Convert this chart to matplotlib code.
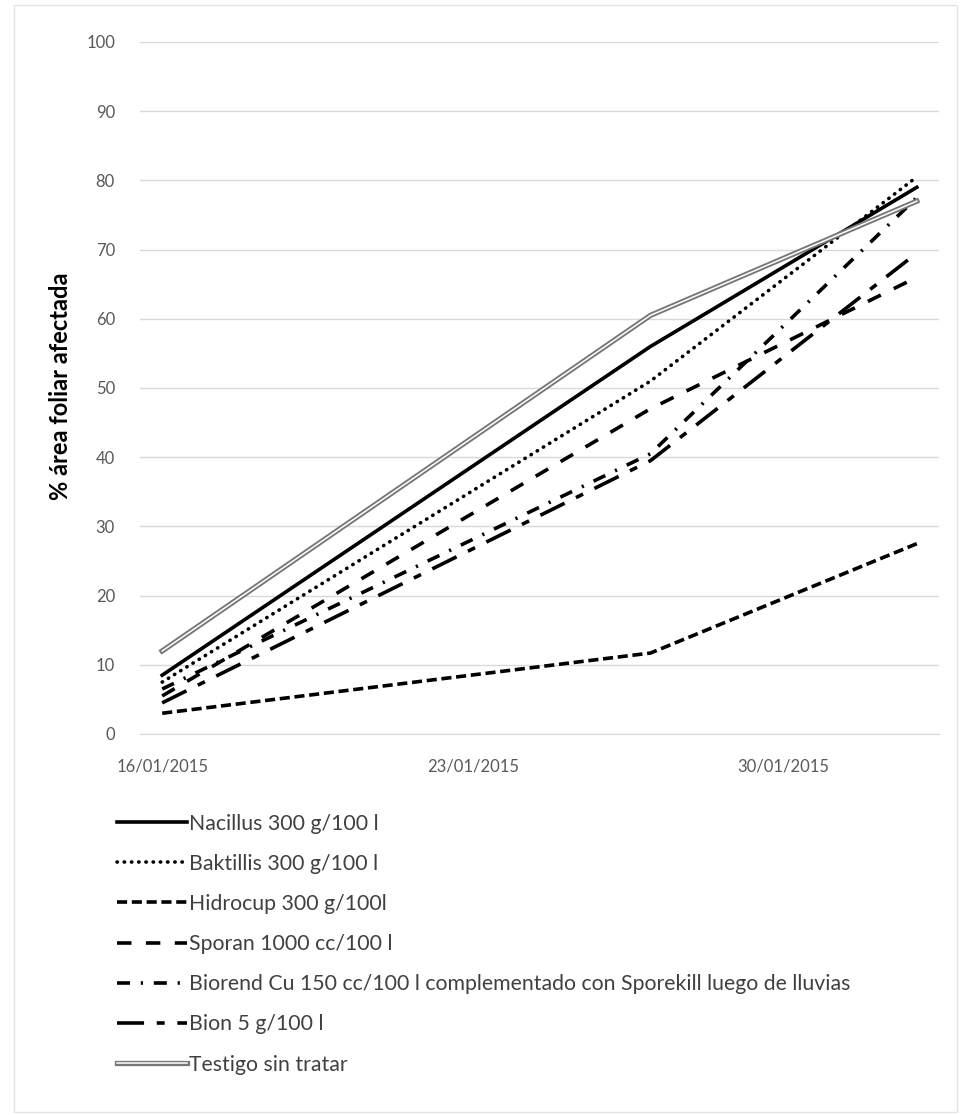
import matplotlib
matplotlib.use('Agg')
import matplotlib.pyplot as plt
import matplotlib.dates as mdates
import matplotlib.patheffects as pe
from matplotlib.patches import Rectangle
import datetime as dt

# ---- data ----
dates = ['2015-01-16', '2015-01-27', '2015-02-02']
tick_dates = ['2015-01-16', '2015-01-23', '2015-01-30']
labels = ['Nacillus 300 g/100 l',
          'Baktillis 300 g/100 l',
          'Hidrocup 300 g/100l',
          'Sporan 1000 cc/100 l',
          'Biorend Cu 150 cc/100 l complementado con Sporekill luego de lluvias',
          'Bion 5 g/100 l',
          'Testigo sin tratar']
nacillus = [8.5, 56.0, 79.0]
baktillis = [7.5, 51.0, 80.5]
hidrocup = [3.0, 11.7, 27.5]
sporan = [5.5, 47.0, 66.0]
biorend = [6.5, 40.5, 77.5]
bion = [4.5, 39.5, 69.5]
testigo = [12.0, 60.5, 77.0]
y_ticks = list(range(0, 101, 10))

plt.rcParams['font.family'] = ['Lato', 'DejaVu Sans']

x = [dt.datetime.strptime(d, '%Y-%m-%d') for d in dates]
xt = [dt.datetime.strptime(d, '%Y-%m-%d') for d in tick_dates]

fig = plt.figure(figsize=(9.6, 11.15), dpi=100)
ax = fig.add_axes([140/960, 1-734/1115, (939-140)/960, (734-42)/1115])

lw = 2.6
styles = [
    dict(linestyle='-', color='black', lw=lw),
    dict(linestyle=(0, (0.1, 1.9)), color='black', lw=lw, dash_capstyle='round'),
    dict(linestyle=(0, (2.8, 1.3)), color='black', lw=lw),
    dict(linestyle=(0, (4.0, 4.0)), color='black', lw=lw),
    dict(linestyle=(0, (3.6, 3.0, 0.6, 3.0)), color='black', lw=lw),
    dict(linestyle=(0, (7.5, 3.5, 2.2, 3.5)), color='black', lw=lw),
    dict(linestyle='-', color='white', lw=1.1,
         path_effects=[pe.Stroke(linewidth=3.8, foreground='#777777'), pe.Normal()]),
]
series = [nacillus, baktillis, hidrocup, sporan, biorend, bion, testigo]
for s, lab, st in zip(series, labels, styles):
    ax.plot(x, s, label=lab, **st)

ax.set_ylim(0, 100)
ax.set_yticks(y_ticks)
ax.set_xlim(mdates.date2num(x[0]) - 0.5, mdates.date2num(x[-1]) + 0.5)
ax.set_xticks(xt)
ax.xaxis.set_major_formatter(mdates.DateFormatter('%d/%m/%Y'))
ax.grid(axis='y', color='#d9d9d9', lw=1.0)
ax.set_axisbelow(True)
for sp in ['top', 'right', 'left']:
    ax.spines[sp].set_visible(False)
ax.spines['bottom'].set_color('#d9d9d9')
ax.tick_params(axis='both', length=0, labelsize=12, colors='#595959')
ax.tick_params(axis='y', pad=18)
ax.tick_params(axis='x', pad=18)

fig.text(60/960, 1-386/1115, '% área foliar afectada', rotation=90,
         ha='center', va='center', fontsize=17, fontweight='bold', color='black')

leg = fig.legend(loc='upper left', bbox_to_anchor=(108/960, 1-805/1115),
                 frameon=False, fontsize=15.3, handlelength=3.3, handletextpad=0.1,
                 labelspacing=0.95, borderaxespad=0)
for t in leg.get_texts():
    t.set_color('#404040')

fig.patches.append(Rectangle((14/960, 3/1115), (957-14)/960, (1110-3)/1115,
                             transform=fig.transFigure, fill=False,
                             edgecolor='#e3e3e3', lw=1.0))

fig.savefig('out.png', dpi=100, facecolor='white')
